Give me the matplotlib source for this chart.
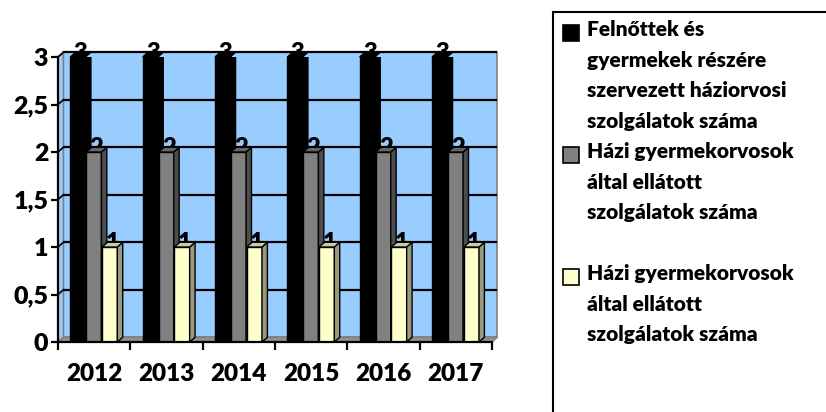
import matplotlib.pyplot as plt
from matplotlib.patches import Polygon, Rectangle
import numpy as np

plt.rcParams['font.family'] = ['Lato', 'DejaVu Sans']
plt.rcParams['font.weight'] = 'heavy'

years = ['2012', '2013', '2014', '2015', '2016', '2017']
felnott = [3, 3, 3, 3, 3, 3]
gyermek = [2, 2, 2, 2, 2, 2]
gyermek2 = [1, 1, 1, 1, 1, 1]
series_names = [
    'Felnőttek és\ngyermekek részére\nszervezett háziorvosi\nszolgálatok száma',
    'Házi gyermekorvosok\náltal ellátott\nszolgálatok száma\n',
    'Házi gyermekorvosok\náltal ellátott\nszolgálatok száma',
]
yticks = [0, 0.5, 1, 1.5, 2, 2.5, 3]
ytick_labels = ['0', '0,5', '1', '1,5', '2', '2,5', '3']

face = ['#000000', '#808080', '#FFFFCC']
side = ['#000000', '#4D4D4D', '#999980']
top = ['#000000', '#666666', '#CCCCA3']

W, H = 826, 412
fig = plt.figure(figsize=(W / 100, H / 100), dpi=100)
ax = fig.add_axes([58 / W, 70 / H, 434 / W, 285 / H])
ax.set_xlim(0, len(years))
ax.set_ylim(0, 3)
ax.set_facecolor('none')

# 3D depth in data units
dx, dy = 0.075, 0.05
n = len(years)

# back wall, left wall and floor
ax.add_patch(Rectangle((dx, dy), n, 3, facecolor='#99CCFF', edgecolor='#808080',
                       lw=1.2, zorder=0, clip_on=False))
ax.add_patch(Polygon([(0, 0), (dx, dy), (dx, 3 + dy), (0, 3)], closed=True,
                     facecolor='#99CCFF', edgecolor='#808080', lw=1.2, zorder=0.2,
                     clip_on=False))
ax.add_patch(Polygon([(0, 0), (n, 0), (n + dx, dy), (dx, dy)], closed=True,
                     facecolor='#909090', edgecolor='#808080', lw=1, zorder=0.2,
                     clip_on=False))
for y in yticks[1:]:
    ax.plot([dx, n + dx], [y + dy, y + dy], color='black', lw=1.6, zorder=0.5,
            clip_on=False, solid_capstyle='butt')
    ax.plot([0, dx], [y, y + dy], color='black', lw=1.2, zorder=0.5, clip_on=False)

x = np.arange(n)
w = 0.21
offsets = [0.17, 0.39, 0.61]
data = [felnott, gyermek, gyermek2]

for k, vals in enumerate(data):
    bars = ax.bar(x + offsets[k], vals, width=w, align='edge', color=face[k],
                  edgecolor='black', lw=1, zorder=3 + k)
    for b, v in zip(bars, vals):
        x0 = b.get_x()
        x1 = x0 + b.get_width()
        ax.add_patch(Polygon([(x1, 0), (x1 + dx, dy), (x1 + dx, v + dy), (x1, v)],
                             closed=True, facecolor=side[k], edgecolor='black',
                             lw=1, zorder=3 + k))
        ax.add_patch(Polygon([(x0, v), (x1, v), (x1 + dx, v + dy), (x0 + dx, v + dy)],
                             closed=True, facecolor=top[k], edgecolor='black',
                             lw=1, zorder=3 + k, clip_on=False))
        ax.text((x0 + x1 + dx) / 2, v + dy * 0.9, str(v), ha='center', va='center',
                fontsize=17, fontweight='heavy', zorder=2.5 + k, clip_on=False)

for s in ['top', 'right']:
    ax.spines[s].set_visible(False)
ax.spines['left'].set_linewidth(1.6)
ax.spines['bottom'].set_linewidth(1.6)
ax.spines['left'].set_zorder(6)
ax.spines['bottom'].set_zorder(6)

ax.set_yticks(yticks)
ax.set_yticklabels(ytick_labels)
ax.set_xticks(np.arange(n + 1))
ax.set_xticklabels([])
ax.set_xticks(x + 0.5, minor=True)
ax.set_xticklabels(years, minor=True)
ax.tick_params(axis='x', which='minor', length=0, pad=15, labelsize=17.5)
ax.tick_params(axis='x', which='major', direction='out', length=6, width=1.6)
ax.tick_params(axis='y', direction='out', length=5, width=1.6, labelsize=18, pad=2)
for lab in ax.get_xticklabels(minor=True) + ax.get_yticklabels():
    lab.set_fontweight('heavy')

# legend box
fig.patches.append(Rectangle((553 / W, -0.05), 0.4, (H - 12) / H + 0.05,
                             transform=fig.transFigure, facecolor='white',
                             edgecolor='black', lw=1.5, zorder=0))
line_h = 30
ytop = 20
for k, name in enumerate(series_names):
    fig.patches.append(Rectangle((563 / W, 1 - (ytop + 21) / H), 16 / W, 16 / H,
                                 transform=fig.transFigure, facecolor=face[k],
                                 edgecolor='black', lw=1.2, zorder=2))
    fig.text(587 / W, 1 - ytop / H, name, ha='left', va='top', fontsize=15,
             fontweight='heavy', linespacing=1.72)
    ytop += line_h * (name.count('\n') + 1) + 2

fig.savefig('out.png', dpi=100)
